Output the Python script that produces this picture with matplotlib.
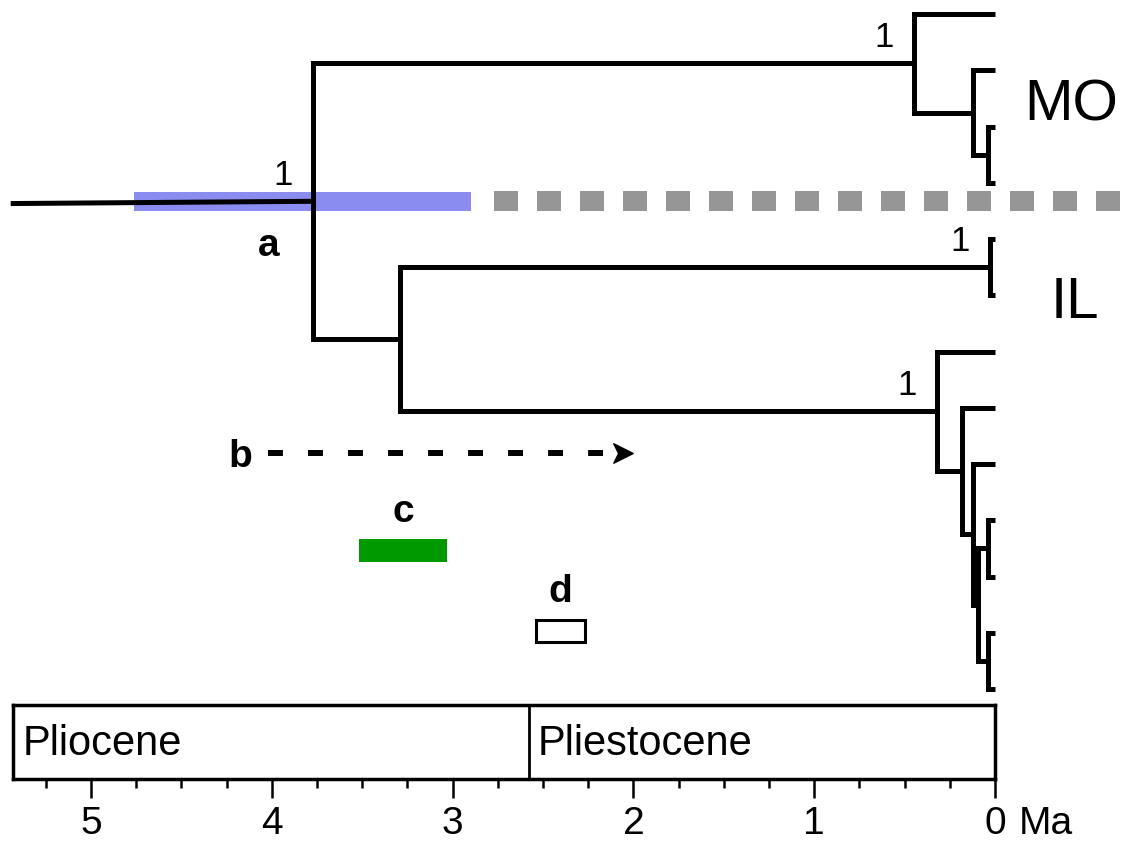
import numpy as np
import matplotlib.pyplot as plt
import matplotlib.transforms as mtransforms
from matplotlib.path import Path
from matplotlib.ticker import MultipleLocator

plt.rcParams['font.family'] = ['Liberation Sans', 'DejaVu Sans']

# tree: (age in Ma, [children]); a leaf is just its row number
mo_clade = (0.45, [0, (0.12, [1, (0.04, [2, 3])])])
il_clade = (0.03, [4, 5])
low_clade = (0.32, [6, (0.18, [7, (0.12, [8, (0.095, [(0.04, [9, 10]), (0.04, [11, 12])])])])])
tree = (3.77, [mo_clade, (3.29, [il_clade, low_clade])])
stem_start = 5.43

# nodes with posterior 1
supported = [tree, mo_clade, il_clade, low_clade]

clade_names = ['MO', 'IL']
clade_x = [-0.42, -0.44]
clade_rows = [1.90, 5.40]

# dated events (Ma)
root_hpd = [4.76, 2.90]
gap_start = 2.77
dispersal_b = [4.02, 2.00]
range_c = [3.52, 3.03]
range_d = [2.54, 2.27]
row_b, row_c, row_d = 7.80, 9.53, 10.96

epochs = ['Pliocene', 'Pliestocene']
epoch_bounds = [5.43, 2.58, 0.0]
major_ticks = [5, 4, 3, 2, 1, 0]

x_left, x_right = 5.503, -0.719

fig = plt.figure(figsize=(11.25, 8.41), dpi=100)
ax = fig.add_axes([0, 0, 1, 1])
ax.set_xlim(x_left, x_right)
ax.set_ylim(14.70, -0.25)
ax.axis('off')

node_y = {}


def draw(node):
    if not isinstance(node, tuple):
        return 0.0, float(node)
    age, kids = node
    (a1, y1), (a2, y2) = [draw(k) for k in kids]
    ax.plot([a1, age, age, a2], [y1, y1, y2, y2], color='black', lw=3.6,
            solid_joinstyle='miter', solid_capstyle='butt', zorder=3)
    y = (y1 + y2) / 2
    node_y[id(node)] = y
    return age, y


root_age, root_y = draw(tree)
ax.plot([stem_start, root_age], [root_y + 0.04, root_y], color='black', lw=3.6, zorder=3)

# root age interval and the grey dashed gap
ax.barh(root_y, root_hpd[1] - root_hpd[0], left=root_hpd[0], height=0.34,
        color='#8a8cef', zorder=1)
ax.plot([gap_start, x_right], [root_y, root_y], color='#969696', lw=14.4,
        dashes=(1.2, 0.95), zorder=1)

for node in supported:
    ax.text(node[0] + 0.165, node_y[id(node)] - 0.29, '1', fontsize=25,
            ha='center', va='baseline')

for name, cx, cy in zip(clade_names, clade_x, clade_rows):
    ax.text(cx, cy, name, fontsize=42, ha='center', va='baseline')

# b: dashed arrow
ax.plot([dispersal_b[0], dispersal_b[1] + 0.1], [row_b, row_b], color='black',
        lw=4.3, dashes=(2.5, 4.2))
chevron = Path([(-0.5, 0.5), (0.5, 0.0), (-0.5, -0.5), (-0.25, 0.0), (-0.5, 0.5)],
               [Path.MOVETO, Path.LINETO, Path.LINETO, Path.LINETO, Path.CLOSEPOLY])
ax.plot([dispersal_b[1] + 0.055], [row_b], marker=chevron, markersize=14,
        color='black', linestyle='none')

# c and d
ax.barh(row_c, range_c[1] - range_c[0], left=range_c[0], height=0.41, color='#009a00')
ax.barh(row_d, range_d[1] - range_d[0], left=range_d[0], height=0.39,
        facecolor='white', edgecolor='black', linewidth=2.2)

bold = dict(fontsize=28, fontweight='bold', ha='center', va='baseline')
ax.text(4.015, 4.30, 'a', **bold)
ax.text(4.175, row_b + 0.25, 'b', **bold)
ax.text(np.mean(range_c), row_c - 0.50, 'c', **bold)
ax.text(np.mean(range_d), row_d - 0.51, 'd', **bold)


# geological time scale
def fx(t):
    return (x_left - t) / (x_left - x_right)


ts = fig.add_axes([fx(epoch_bounds[0]), 62 / 841, fx(0) - fx(epoch_bounds[0]), 74 / 841])
ts.set_xlim(epoch_bounds[0], epoch_bounds[-1])
ts.set_ylim(0, 1)
ts.set_yticks([])
for s in ts.spines.values():
    s.set_linewidth(2.5)
ts.set_xticks(major_ticks)
ts.set_xticklabels([str(t) for t in major_ticks])
ts.xaxis.set_minor_locator(MultipleLocator(0.25))
tick_len, tick_pad, tick_font = 13.5, 6, 28
ts.tick_params(axis='x', which='major', direction='out', length=tick_len, width=1.8,
               labelsize=tick_font, pad=tick_pad)
ts.tick_params(axis='x', which='minor', direction='out', length=6.5, width=1.8)
for b in epoch_bounds[1:-1]:
    ts.axvline(b, color='black', lw=2)
for name, b in zip(epochs, epoch_bounds[:-1]):
    ts.text(b - 0.05, 0.32, name, fontsize=30, ha='left', va='baseline')

# unit next to the 0 tick label, on the same line
unit_tr = mtransforms.offset_copy(ts.get_xaxis_transform(), fig=fig,
                                  y=-(tick_len + tick_pad), units='points')
ts.text(-0.13, 0, 'Ma', fontsize=tick_font, ha='left', va='top',
        transform=unit_tr, clip_on=False)

fig.savefig('out.png', dpi=100)
